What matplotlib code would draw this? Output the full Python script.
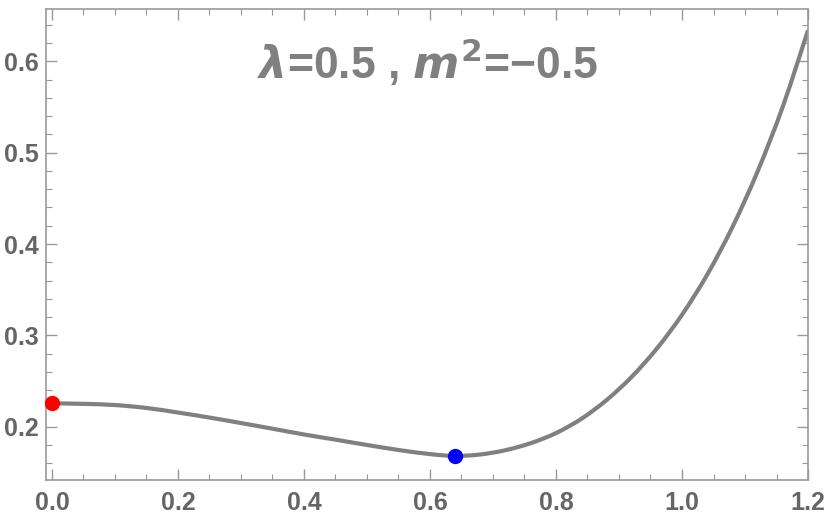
import matplotlib
matplotlib.use('Agg')
import matplotlib.pyplot as plt
from matplotlib.path import Path
from matplotlib.patches import PathPatch
from matplotlib.ticker import MultipleLocator

# values
x_vals = [0.00, 0.05, 0.10, 0.15, 0.20, 0.25, 0.30, 0.35, 0.40, 0.45, 0.50,
          0.55, 0.60, 0.64, 0.68, 0.72, 0.76, 0.80, 0.84, 0.88, 0.92, 0.96,
          1.00, 1.04, 1.08, 1.12, 1.16, 1.20]
v_vals = [0.2256, 0.2250, 0.2237, 0.2205, 0.2155, 0.2100, 0.2040, 0.1978,
          0.1915, 0.1858, 0.1800, 0.1745, 0.1700, 0.1680, 0.1696, 0.1743,
          0.1820, 0.1930, 0.2085, 0.2290, 0.2545, 0.2855, 0.3225, 0.3665,
          0.4185, 0.4795, 0.5505, 0.6340]

start_pt = (0.0, 0.2256)
min_pt = (0.639, 0.168)

title = '$\\mathit{\\lambda}$=0.5 , $\\mathit{m}^2$=\u22120.5'


def smooth_path(xs, ys):
    # catmull-rom through the read points, drawn as bezier pieces
    pts = list(zip(xs, ys))
    verts = [pts[0]]
    codes = [Path.MOVETO]
    n = len(pts)
    for i in range(n - 1):
        p0 = pts[max(i - 1, 0)]
        p1 = pts[i]
        p2 = pts[i + 1]
        p3 = pts[min(i + 2, n - 1)]
        c1 = (p1[0] + (p2[0] - p0[0]) / 6, p1[1] + (p2[1] - p0[1]) / 6)
        c2 = (p2[0] - (p3[0] - p1[0]) / 6, p2[1] - (p3[1] - p1[1]) / 6)
        verts += [c1, c2, p2]
        codes += [Path.CURVE4] * 3
    return Path(verts, codes)


plt.rcParams['font.family'] = ['Liberation Sans', 'DejaVu Sans']
plt.rcParams['font.weight'] = 'bold'

fig = plt.figure(figsize=(8.3, 5.21), dpi=100)
ax = fig.add_axes([0.0554, 0.0781, 0.9181, 0.9046])

curve = PathPatch(smooth_path(x_vals, v_vals), facecolor='none',
                  edgecolor='#808080', lw=3.0, zorder=2)
ax.add_patch(curve)
ax.plot(*start_pt, 'o', color='#ff0000', ms=10, zorder=3, clip_on=False)
ax.plot(*min_pt, 'o', color='#0000ff', ms=10, zorder=3, clip_on=False)

ax.set_xlim(-0.0095, 1.2)
ax.set_ylim(0.1413, 0.6573)

ax.xaxis.set_major_locator(MultipleLocator(0.2))
ax.xaxis.set_minor_locator(MultipleLocator(0.05))
ax.yaxis.set_major_locator(MultipleLocator(0.1))
ax.yaxis.set_minor_locator(MultipleLocator(0.02))
ax.xaxis.set_major_formatter(lambda v, p: f'{v:.1f}')
ax.yaxis.set_major_formatter(lambda v, p: f'{v:.1f}')

ax.tick_params(which='both', direction='in', top=True, right=True,
               color='#999999', labelcolor='#666666', labelsize=18)
ax.tick_params(which='major', length=8, width=1)
ax.tick_params(which='minor', length=4, width=0.8)
ax.tick_params(axis='x', pad=8)
ax.tick_params(axis='y', pad=5)
for s in ax.spines.values():
    s.set_color('#999999')
    s.set_linewidth(1.2)

# title text inside the frame
fig.text(427 / 830, 1 - 62 / 521, title,
         ha='center', va='center', fontsize=32, color='#808080',
         fontweight='bold')

fig.savefig('out.png', dpi=100)
